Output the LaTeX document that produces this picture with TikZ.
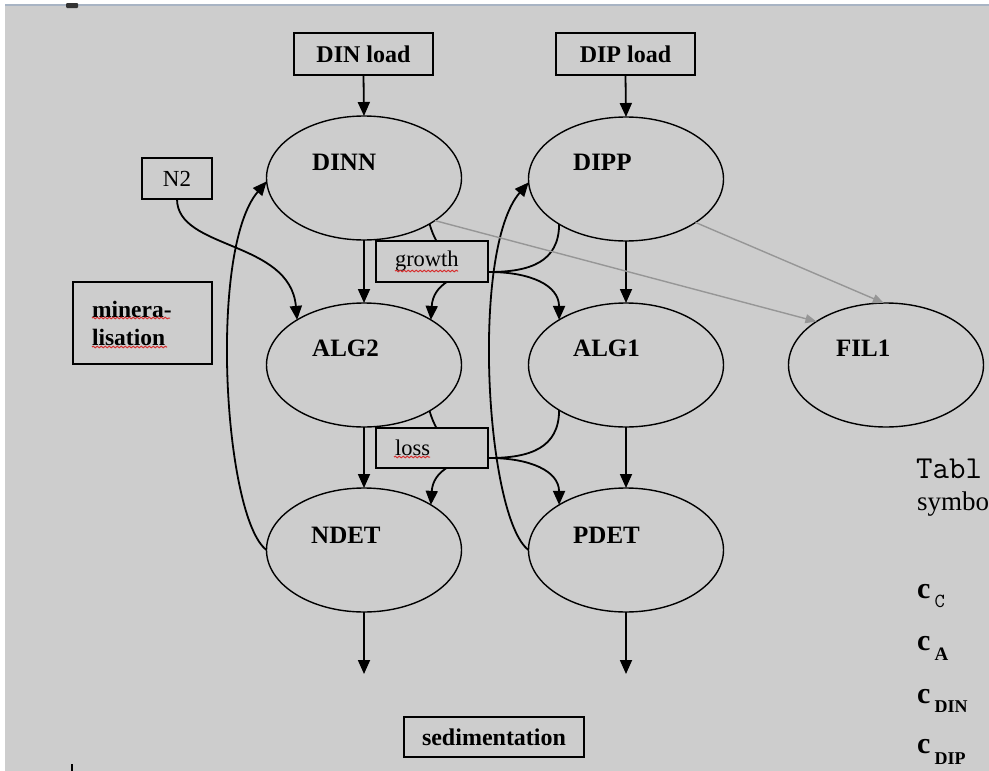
\documentclass[tikz,border=0pt]{standalone}
\usepackage{fontspec}
\setmainfont{Liberation Serif}
\usetikzlibrary{arrows.meta,shapes.geometric,decorations.pathmorphing}
\definecolor{bg}{RGB}{205,205,205}
\definecolor{topline}{RGB}{168,180,196}
\definecolor{arrgray}{RGB}{150,150,150}
\definecolor{spell}{RGB}{215,45,45}
\newcommand{\symrow}[2]{{\bfseries\fontsize{30}{30}\selectfont c}\kern4pt\raisebox{#1}{#2}}
\begin{document}
\begin{tikzpicture}[x=1pt,y=-1pt,
  ell/.style={draw, ellipse, line width=1.4pt, minimum width=195pt, minimum height=124pt, inner sep=0pt, outer sep=0pt},
  lbl/.style={anchor=west, inner sep=0pt, font=\fontsize{25}{30}\selectfont\bfseries},
  boxn/.style={draw, line width=1.3pt, fill=bg, inner sep=0pt, outer sep=0pt},
  bigbold/.style={font=\fontsize{24}{28}\selectfont\bfseries},
  flow/.style={line width=1.8pt, -{Triangle[length=14pt,width=12pt]}},
  link/.style={line width=1.8pt},
  grayflow/.style={line width=1.4pt, draw=arrgray, -{Triangle[length=11pt,width=9pt]}},
  spellw/.style={draw=spell, line width=1pt, decorate, decoration={snake, amplitude=0.8pt, segment length=4pt}},
  tabtext/.style={anchor=base west, inner sep=0pt}
]
\useasboundingbox (0,0) rectangle (989,771);
\clip (0,0) rectangle (989,771);
% background
\fill[white] (0,0) rectangle (989,771);
\fill[bg] (5,6) rectangle (989,771);
\fill[topline] (5,4) rectangle (989,6);
\fill[black!80, rounded corners=1pt] (66,3) rectangle (78,8);
\draw[line width=2pt] (72,764) -- (72,771);

% ellipses
\node[ell] (DINN) at (364,178) {};
\node[ell] (DIPP) at (626,179) {};
\node[ell] (ALG2) at (364,365) {};
\node[ell] (ALG1) at (626,365) {};
\node[ell] (FIL1) at (886,365) {};
\node[ell] (NDET) at (364,550) {};
\node[ell] (PDET) at (626,550) {};
\node[lbl] at (312,162) {DINN};
\node[lbl] at (573,162) {DIPP};
\node[lbl] at (312,348) {ALG2};
\node[lbl] at (573,348) {ALG1};
\node[lbl] at (836,348) {FIL1};
\node[lbl] at (311,535) {NDET};
\node[lbl] at (573,535) {PDET};

% junction points
\coordinate (gj) at (489,272);
\coordinate (lj) at (489,458);
\coordinate (ndown) at (364,674);
\coordinate (pdown) at (626,674);

% load boxes
\node[boxn, minimum width=139pt, minimum height=42pt, bigbold] (dinload) at (363.5,54) {DIN load};
\node[boxn, minimum width=139pt, minimum height=42pt, bigbold] (dipload) at (625.5,54) {DIP load};
\node[boxn, minimum width=70pt, minimum height=41pt, font=\fontsize{23}{26}\selectfont] (N2) at (177,178.5) {N2};

% straight flows
\draw[flow] (dinload.south) -- (DINN.north);
\draw[flow] (dipload.south) -- (DIPP.north);
\draw[flow] (DINN.south) -- (ALG2.north);
\draw[flow] (DIPP.south) -- (ALG1.north);
\draw[flow] (ALG2.south) -- (NDET.north);
\draw[flow] (ALG1.south) -- (PDET.north);
\draw[flow] (NDET.south) -- (ndown);
\draw[flow] (PDET.south) -- (pdown);

% N2 fixation
\draw[flow] (N2.south) .. controls (177,250) and (290,240) .. (ALG2.146);

% mineralisation returns
\draw[flow] (NDET.180) .. controls (224,518) and (208,250) .. (DINN.182);
\draw[flow] (PDET.180) .. controls (486,518) and (470,250) .. (DIPP.182);

% growth
\draw[link] (DINN.-35) .. controls (437,250) and (455,272) .. (gj);
\draw[link] (DIPP.-146) .. controls (559,262) and (530,272) .. (gj);
\draw[flow] (gj) .. controls (455,272) and (433,285) .. (ALG2.34);
\draw[flow] (gj) .. controls (530,272) and (559,285) .. (ALG1.146);

% loss
\draw[link] (ALG2.-35) .. controls (437,437) and (455,458) .. (lj);
\draw[link] (ALG1.-146) .. controls (559,448) and (530,458) .. (lj);
\draw[flow] (lj) .. controls (455,458) and (433,471) .. (NDET.34);
\draw[flow] (lj) .. controls (530,458) and (559,471) .. (PDET.146);

% grey flows to FIL1
\draw[grayflow] (DINN.-31) -- (FIL1.148);
\draw[grayflow] (DIPP.-32) -- (FIL1.92);

% process boxes
\node[boxn, minimum height=41pt, text width=74pt, inner xsep=19pt, align=left, font=\fontsize{22.5}{26}\selectfont] (growth) at (432,261.5) {growth};
\node[boxn, minimum height=40pt, text width=74pt, inner xsep=19pt, align=left, font=\fontsize{22.5}{26}\selectfont] (loss) at (432,448) {loss};
\node[boxn, minimum height=82pt, text width=101pt, inner xsep=19pt, align=left, font=\fontsize{23.5}{28}\selectfont\bfseries] (miner) at (142.5,323) {minera-\\lisation};
\node[boxn, minimum width=180pt, minimum height=40pt, bigbold] (sed) at (494,737) {sedimentation};

% spell-check underlines
\draw[spellw] (395,271) -- (458,271);
\draw[spellw] (394,457) -- (430,457);
\draw[spellw] (92,318) -- (170,318);
\draw[spellw] (92,347) -- (167,347);

% table fragment on the right
\node[tabtext, font=\ttfamily\fontsize{32}{32}\selectfont] at (916,478) {Tabl};
\node[tabtext, font=\fontsize{27}{30}\selectfont] at (917,510) {symbo};
\node[tabtext] at (917,598) {\symrow{-9pt}{\ttfamily\fontsize{20}{20}\selectfont C}};
\node[tabtext] at (917,650) {\symrow{-10pt}{\bfseries\fontsize{19}{19}\selectfont A}};
\node[tabtext] at (917,703) {\symrow{-9pt}{\bfseries\fontsize{18}{18}\selectfont DIN}};
\node[tabtext] at (917,753) {\symrow{-11pt}{\bfseries\fontsize{18}{18}\selectfont DIP}};
\end{tikzpicture}
\end{document}
